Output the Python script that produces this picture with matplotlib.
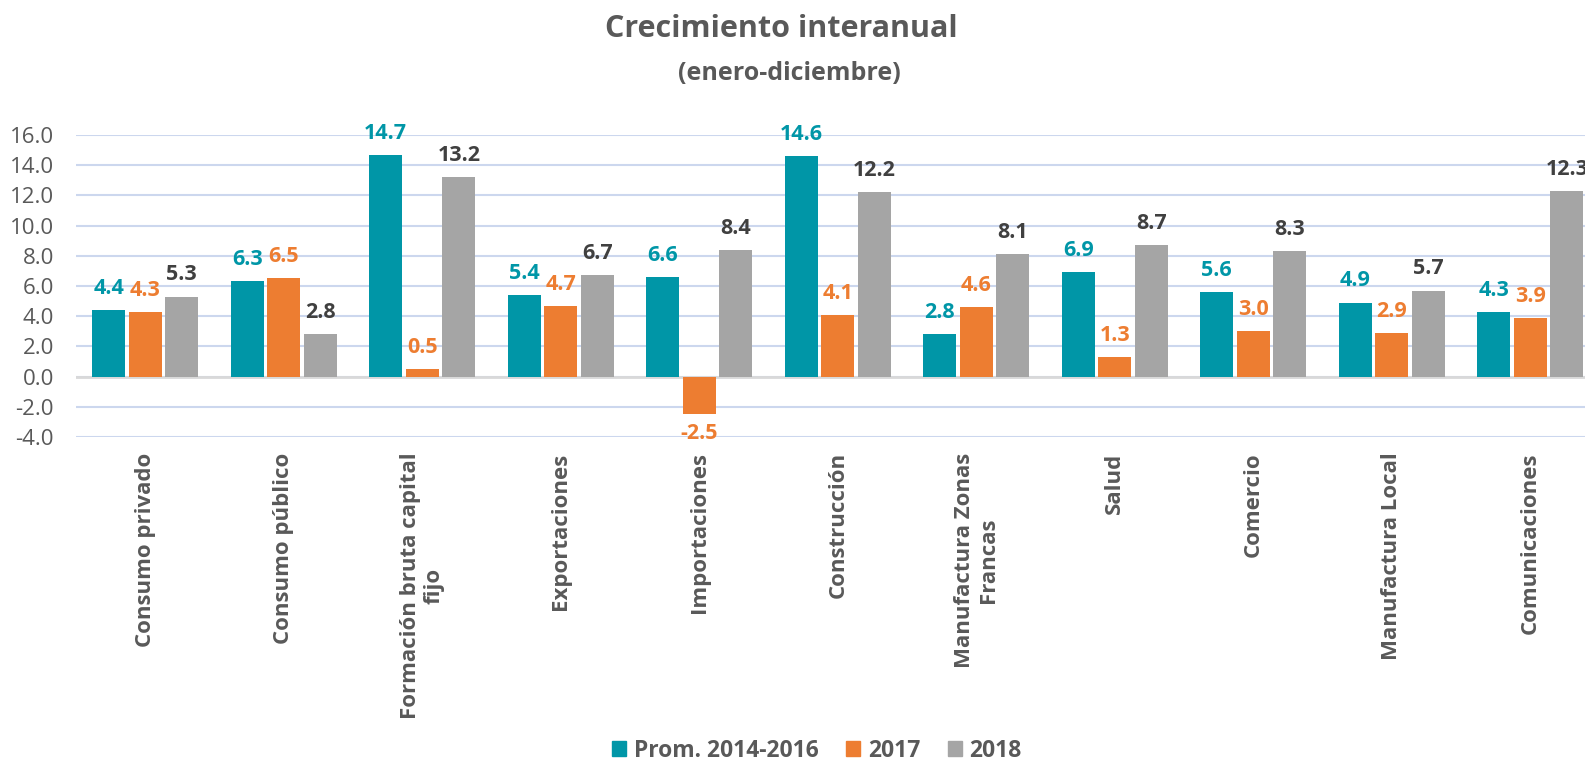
import numpy as np
import matplotlib
matplotlib.use('Agg')
import matplotlib.pyplot as plt
from matplotlib.patches import Patch
from matplotlib import font_manager as fm

categorias = ['Consumo privado', 'Consumo público', 'Formación bruta capital\nfijo',
              'Exportaciones', 'Importaciones', 'Construcción', 'Manufactura Zonas\nFrancas',
              'Salud', 'Comercio', 'Manufactura Local', 'Comunicaciones']
prom = [4.4, 6.3, 14.7, 5.4, 6.6, 14.6, 2.8, 6.9, 5.6, 4.9, 4.3]
y2017 = [4.3, 6.5, 0.5, 4.7, -2.5, 4.1, 4.6, 1.3, 3.0, 2.9, 3.9]
y2018 = [5.3, 2.8, 13.2, 6.7, 8.4, 12.2, 8.1, 8.7, 8.3, 5.7, 12.3]
series = ['Prom. 2014-2016', '2017', '2018']

colores = ['#0096A7', '#ED7D31', '#A5A5A5']
col_txt = ['#0096A7', '#ED7D31', '#404040']
gris = '#595959'

# pick the normal-width Open Sans files (skip condensed ones)
def pick(weight):
    cands = [f for f in fm.fontManager.ttflist
             if f.name.startswith('Open Sans') and f.style == 'normal'
             and 'ondensed' not in f.fname and 'ondensed' not in f.name]
    if not cands:
        cands = [f for f in fm.fontManager.ttflist if f.name == 'Lato' and f.style == 'normal']
    cands.sort(key=lambda f: abs(int(f.weight) - weight) if str(f.weight).isdigit() else 999)
    return cands[0].fname

f_bold = pick(700)
f_reg = pick(400)

def fb(size):
    return fm.FontProperties(fname=f_bold, size=size)

def fr(size):
    return fm.FontProperties(fname=f_reg, size=size)

fig = plt.figure(figsize=(15.85, 7.7), dpi=100)
ax = fig.add_axes([0.04795, 0.43247, 0.96120, 0.39221])

x = np.arange(len(categorias))
w = 0.24
step = 0.264
for i, vals in enumerate([prom, y2017, y2018]):
    xs = x + (i - 1) * step
    ax.bar(xs, vals, width=w, color=colores[i], zorder=3)
    for xi, v in zip(xs, vals):
        if v >= 0:
            ax.annotate(f'{v:.1f}', (xi, v), xytext=(0, 8), textcoords='offset points',
                        ha='center', va='bottom', fontproperties=fb(15.5),
                        color=col_txt[i], annotation_clip=False)
        else:
            ax.annotate(f'{v:.1f}', (xi, v), xytext=(0, -6), textcoords='offset points',
                        ha='center', va='top', fontproperties=fb(15.5),
                        color=col_txt[i], annotation_clip=False)

ax.set_xlim(-0.5, len(categorias) - 0.5)
ax.set_ylim(-4, 16)
ax.set_yticks(np.arange(-4, 17, 2))
ax.set_yticklabels([f'{t:.1f}' for t in np.arange(-4, 17, 2)], color=gris)
for t in ax.get_yticklabels():
    t.set_fontproperties(fr(16))
ax.yaxis.grid(True, color='#CCD7EE', linewidth=1.5, zorder=0)
ax.axhline(0, color='#D9D9D9', linewidth=2, zorder=2)
ax.set_xticks(x)
ax.set_xticklabels(categorias, rotation=90, color=gris, multialignment='center', va='top')
for t in ax.get_xticklabels():
    t.set_fontproperties(fb(16))
ax.tick_params(axis='both', length=0)
ax.tick_params(axis='y', pad=16)
ax.tick_params(axis='x', pad=11)
for s in ax.spines.values():
    s.set_visible(False)

fig.text(0.493, 0.962, 'Crecimiento interanual', ha='center', va='center',
         fontproperties=fb(22), color=gris)
fig.text(0.498, 0.905, '(enero-diciembre)', ha='center', va='center',
         fontproperties=fb(18), color=gris)

handles = [Patch(color=c) for c in colores]
fig.legend(handles, series, loc='center', bbox_to_anchor=(817 / 1585, 0.025), ncol=3,
           frameon=False, handlelength=0.6, handleheight=0.6, handletextpad=0.35,
           columnspacing=1.2, prop=fb(16.5), labelcolor=gris)

fig.savefig('out.png', dpi=100)
